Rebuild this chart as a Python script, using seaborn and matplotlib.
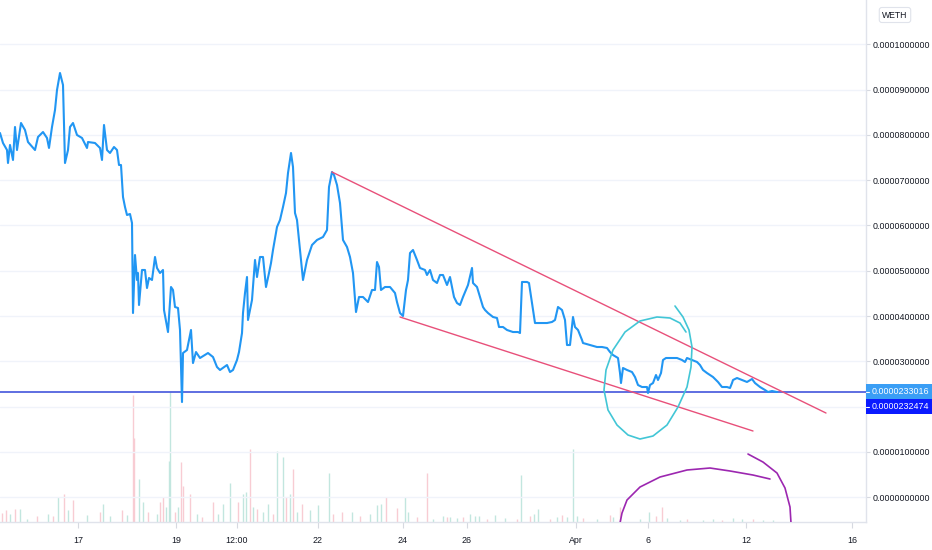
import numpy as np
import pandas as pd
import matplotlib
matplotlib.use("Agg")
import matplotlib.pyplot as plt
from matplotlib.patches import Rectangle
import seaborn as sns

# ---------------- data (price in units of 1e-6 WETH) ----------------
bar_idx = [0, 3, 7, 8, 10, 13, 15, 17, 21, 25, 28, 35, 38, 43, 47, 49, 52, 55, 57, 60,
           63, 65, 68, 70, 73, 77, 82, 87, 88, 95, 100, 102, 104, 107, 110, 114, 117, 119, 121, 123,
           125, 127, 130, 132, 133, 135, 137, 138, 139, 142, 145, 147, 149, 152, 155, 157, 160, 163, 164, 168,
           171, 173, 175, 178, 180, 182, 183, 187, 191, 193, 196, 200, 208, 213, 217, 220, 227, 230, 233, 237,
           239, 242, 243, 245, 247, 248, 252, 255, 257, 260, 263, 266, 269, 271, 273, 277, 280, 283, 286, 288,
           291, 293, 295, 297, 299, 303, 307, 312, 317, 323, 327, 329, 332, 334, 337, 340, 343, 347, 350, 353,
           356, 359, 363, 368, 372, 375, 377, 379, 381, 385, 390, 395, 397, 400, 403, 406, 408, 410, 413, 417,
           420, 425, 427, 430, 433, 437, 440, 443, 447, 450, 452, 454, 457, 460, 463, 468, 472, 473, 477, 480,
           483, 485, 488, 493, 497, 499, 503, 507, 513, 518, 520, 522, 527, 529, 532, 535, 540, 547, 552, 555,
           558, 562, 565, 567, 570, 573, 575, 578, 582, 583, 590, 597, 602, 607, 610, 613, 618, 620, 621, 623,
           627, 632, 635, 638, 642, 647, 648, 650, 653, 656, 658, 661, 663, 666, 670, 677, 682, 685, 687, 692,
           697, 700, 703, 707, 713, 718, 722, 727, 730, 732, 733, 737, 742, 747, 752, 755, 760, 765, 768, 772,
           777]
price_u = [80.44, 78.23, 76.68, 73.81, 77.79, 74.48, 81.77, 76.68, 82.65, 81.10, 78.45, 76.68, 79.56, 80.66, 79.34, 77.13, 81.77, 85.52, 89.94, 93.70,
           91.05, 73.81, 76.68, 81.77, 82.65, 80.00, 79.34, 77.13, 78.45, 78.23, 77.13, 74.48, 82.21, 76.68, 76.02, 77.35, 76.68, 73.37, 73.37, 66.30,
           64.09, 62.32, 62.54, 60.55, 40.66, 53.48, 47.96, 49.50, 42.43, 50.17, 50.17, 46.19, 48.40, 47.96, 53.04, 50.61, 49.50, 50.17, 41.33, 36.46,
           46.41, 45.75, 41.99, 41.77, 36.91, 20.99, 31.82, 32.49, 36.91, 29.61, 32.04, 30.72, 31.82, 30.94, 28.73, 28.07, 29.17, 27.62, 28.07, 30.28,
           32.04, 36.24, 40.66, 45.08, 48.62, 39.12, 43.54, 52.38, 48.62, 53.04, 53.04, 46.41, 49.50, 51.71, 54.59, 59.67, 61.22, 64.09, 67.18, 71.60,
           76.02, 72.93, 62.76, 61.22, 56.80, 47.96, 52.38, 55.69, 56.80, 57.46, 59.01, 68.51, 71.82, 71.16, 68.95, 64.97, 56.80, 55.25, 53.04, 49.50,
           40.88, 44.20, 44.20, 43.09, 45.75, 45.75, 51.93, 50.83, 45.75, 46.41, 46.41, 45.08, 43.09, 40.66, 40.00, 45.75, 47.96, 53.92, 54.59, 52.38,
           50.61, 50.17, 49.06, 50.17, 47.96, 47.29, 49.06, 49.06, 46.85, 48.62, 46.41, 44.20, 42.87, 42.43, 44.20, 46.85, 50.61, 47.29, 46.41, 44.20,
           41.99, 41.33, 40.66, 39.78, 39.56, 37.57, 37.57, 36.91, 36.46, 36.46, 36.24, 47.52, 47.52, 47.29, 42.87, 38.45, 38.45, 38.45, 38.68, 39.12,
           41.99, 41.33, 39.12, 33.59, 33.59, 39.78, 37.57, 36.91, 34.70, 34.03, 33.59, 33.15, 33.15, 32.93, 32.04, 31.38, 30.72, 27.40, 25.19, 28.51,
           28.07, 27.62, 26.52, 24.75, 24.31, 24.31, 22.98, 24.75, 25.19, 26.96, 25.86, 27.40, 30.28, 30.72, 30.72, 30.72, 30.28, 29.84, 30.72, 30.28,
           29.84, 29.17, 28.07, 27.40, 26.52, 25.42, 24.31, 24.31, 24.09, 25.19, 25.86, 26.30, 25.86, 25.42, 26.08, 25.19, 24.31, 23.65, 23.20, 23.43,
           23.20]

# volume (relative units), direction 1 = up bar (green), 0 = down bar (red)
vol_bar = [2, 6, 10, 15, 20, 27, 37, 48, 53, 58, 64, 68, 73, 87, 100, 103, 110, 122, 127, 133,
           134, 139, 143, 148, 157, 160, 163, 166, 169, 170, 175, 178, 181, 183, 190, 197, 202, 213, 218, 223,
           230, 238, 243, 246, 250, 253, 257, 263, 268, 273, 277, 283, 286, 290, 293, 297, 302, 310, 318, 329,
           333, 342, 352, 360, 370, 377, 381, 386, 397, 405, 408, 417, 427, 433, 443, 447, 450, 457, 463, 470,
           475, 479, 487, 495, 505, 517, 521, 530, 534, 538, 550, 557, 562, 567, 573, 577, 583, 597, 610, 613,
           620, 640, 649, 656, 662, 667, 680, 687, 703, 713, 722, 733, 742, 753, 763, 773]
vol_size = [9, 12, 8, 13, 13, 3, 6, 8, 6, 25, 28, 12, 22, 7, 10, 18, 6, 12, 7, 127,
            84, 43, 20, 10, 8, 20, 25, 15, 61, 130, 10, 15, 60, 36, 28, 8, 5, 20, 8, 18,
            39, 20, 28, 30, 73, 15, 13, 10, 18, 8, 71, 65, 25, 28, 53, 10, 18, 12, 17, 49,
            8, 10, 10, 6, 8, 17, 18, 25, 14, 25, 10, 5, 49, 3, 6, 5, 5, 4, 5, 8,
            6, 6, 3, 7, 4, 3, 47, 6, 8, 13, 3, 5, 7, 5, 73, 6, 4, 3, 7, 5,
            15, 3, 10, 6, 15, 4, 2, 3, 2, 3, 2, 4, 3, 3, 2, 2]
vol_up = [0, 0, 1, 0, 1, 1, 0, 1, 0, 1, 0, 1, 0, 1, 0, 1, 1, 0, 1, 0,
          0, 1, 1, 0, 1, 0, 0, 1, 1, 1, 0, 1, 0, 0, 0, 1, 0, 0, 1, 1,
          1, 0, 1, 1, 0, 1, 0, 1, 1, 0, 1, 1, 0, 1, 0, 1, 0, 1, 1, 1,
          0, 0, 1, 0, 1, 1, 1, 0, 0, 1, 1, 0, 0, 1, 1, 0, 1, 1, 0, 1,
          1, 1, 0, 1, 1, 0, 1, 0, 1, 1, 0, 1, 0, 1, 1, 1, 0, 1, 0, 1,
          0, 1, 1, 0, 0, 1, 1, 0, 1, 1, 0, 1, 1, 0, 1, 1]

xtick_bars = [78, 176, 237, 318, 403, 467, 576, 648, 746, 852]
xtick_labels = ["17", "19", "12:00", "22", "24", "26", "Apr", "6", "12", "16"]
ytick_values_u = [0, 10, 20, 30, 40, 50, 60, 70, 80, 90, 100]

last_price = 0.0000233016
last_price_text = "0.0000233016"
prev_price_text = "0.0000232474"
symbol_text = "WETH"

# hand-drawn annotations (bar index, price in 1e-6)
upper_trend_bar = [332, 826]
upper_trend_u = [71.82, 18.56]
lower_trend_bar = [400, 753]
lower_trend_u = [39.78, 14.59]
ellipse_bar = [675, 683, 689, 692, 691, 687, 678, 667, 653, 640, 628, 617, 608, 604, 606, 613, 625, 640, 657, 670, 680, 686]
ellipse_u = [42.21, 39.78, 36.91, 33.15, 28.73, 24.31, 19.89, 15.91, 13.48, 12.82, 13.70, 15.91, 19.23, 23.65, 28.07, 32.49,
             36.46, 38.90, 39.78, 39.56, 38.45, 36.46]
arc1_bar = [620, 622, 627, 640, 660, 687, 710, 730, 753, 770]
arc1_u = [-5.75, -3.54, -0.66, 2.21, 4.42, 5.97, 6.41, 5.75, 4.86, 3.98]
arc2_bar = [748, 763, 777, 785, 790, 791]
arc2_u = [9.50, 7.73, 5.30, 1.99, -2.21, -5.75]

# ---------------- style ----------------
sns.set_theme(style="white")
plt.rcParams["font.family"] = ["Liberation Sans", "DejaVu Sans"]
FS = 6.4

W, H = 932, 550
fig = plt.figure(figsize=(W / 100, H / 100), dpi=100)
fig.patch.set_facecolor("white")
plot_right = 866
plot_bottom = 522
ax = fig.add_axes([0, 1 - plot_bottom / H, plot_right / W, plot_bottom / H])

scale = 1e-6
df = pd.DataFrame({"bar": bar_idx, "price": np.array(price_u) * scale})

# volume on a twin axis (behind)
ax2 = ax.twinx()
ax.set_zorder(ax2.get_zorder() + 1)
ax.patch.set_visible(False)
vol_df = pd.DataFrame({"bar": vol_bar, "vol": vol_size, "up": vol_up})
for up, col in [(1, "#c2e6df"), (0, "#f8ccd3")]:
    sub = vol_df[vol_df["up"] == up]
    ax2.vlines(sub["bar"], 0, sub["vol"], color=col, lw=1.0)
ax2.set_ylim(0, plot_bottom)
ax2.set_yticks([])
for s in ax2.spines.values():
    s.set_visible(False)

# gridlines
for v in ytick_values_u:
    ax.axhline(v * scale, color="#f0f3fa", lw=1, zorder=0)

# price line
sns.lineplot(data=df, x="bar", y="price", ax=ax, color="#2196f3", lw=1.5,
             estimator=None, sort=False, zorder=5)

# last price line
ax.axhline(last_price, color="#4355dc", lw=1.2, zorder=4)

# annotations
ax.plot(upper_trend_bar, np.array(upper_trend_u) * scale, color="#e8507a", lw=1.0, zorder=6)
ax.plot(lower_trend_bar, np.array(lower_trend_u) * scale, color="#e8507a", lw=1.0, zorder=6)
ax.plot(ellipse_bar, np.array(ellipse_u) * scale, color="#42c6d6", lw=1.2, zorder=6)
ax.plot(arc1_bar, np.array(arc1_u) * scale, color="#9c27b0", lw=1.2, zorder=6)
ax.plot(arc2_bar, np.array(arc2_u) * scale, color="#9c27b0", lw=1.2, zorder=6)

# axes limits
y_top_u = 109.83
y_bot_u = -5.52
ax.set_ylim(y_bot_u * scale, y_top_u * scale)
ax.set_xlim(0, plot_right)

# ticks
ax.yaxis.tick_right()
ax.set_yticks([v * scale for v in ytick_values_u])
ax.set_yticklabels(["" if v == 20 else f"{v * scale:.10f}" for v in ytick_values_u])
ax.set_xticks(xtick_bars)
ax.set_xticklabels(xtick_labels)
ax.tick_params(axis="y", which="both", right=True, left=False, length=3, width=0.8,
               color="#d6d9e0", labelsize=FS, labelcolor="#131722", pad=2)
ax.tick_params(axis="x", which="both", bottom=True, length=4, width=0.8,
               color="#d6d9e0", labelsize=FS, labelcolor="#131722", pad=6)
ax.set_xlabel("")
ax.set_ylabel("")
for name, s in ax.spines.items():
    if name in ("right", "bottom"):
        s.set_visible(True)
        s.set_color("#e0e3eb")
        s.set_linewidth(1)
    else:
        s.set_visible(False)

# price labels on right scale (boxes in figure pixels)
def fig_rect(x0, y0, x1, y1, color):
    fig.patches.append(Rectangle((x0 / W, 1 - y1 / H), (x1 - x0) / W, (y1 - y0) / H,
                                 transform=fig.transFigure, fc=color, ec="none", zorder=10))

fig_rect(866, 384, 932, 399, "#3a9ef5")
fig_rect(866, 399, 932, 414, "#0a1aff")
fig.text(872 / W, 1 - 391.5 / H, last_price_text, ha="left", va="center",
         fontsize=FS, color="white", zorder=11)
fig.text(872 / W, 1 - 406.5 / H, prev_price_text, ha="left", va="center",
         fontsize=FS, color="white", zorder=11)
for yy in (391.5, 406.5):
    fig.lines.append(plt.Line2D([866 / W, 869 / W], [1 - yy / H, 1 - yy / H],
                                transform=fig.transFigure, color="white", lw=0.8, zorder=11))

# symbol box
fig.text(895 / W, 1 - 15 / H, symbol_text, ha="center", va="center", fontsize=6.2,
         color="#131722",
         bbox=dict(boxstyle="round,pad=0.35,rounding_size=0.3", fc="white", ec="#e0e3eb", lw=0.8))

fig.savefig("out.png", dpi=100, facecolor="white")
